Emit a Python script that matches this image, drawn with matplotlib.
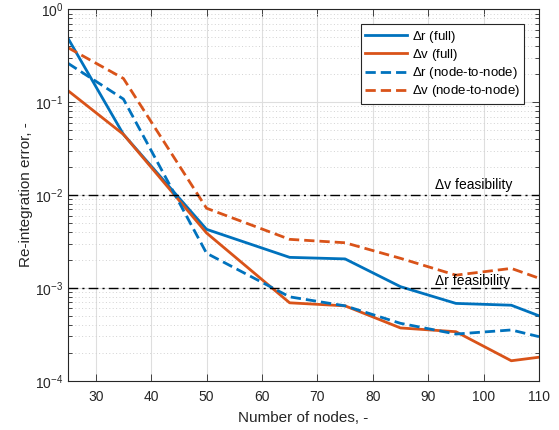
import numpy as np
import matplotlib
matplotlib.use("Agg")
import matplotlib.pyplot as plt
from matplotlib.ticker import LogLocator, NullFormatter, MultipleLocator

plt.rcParams['font.family'] = ['Liberation Sans', 'DejaVu Sans']
plt.rcParams['mathtext.default'] = 'regular'

# Re-integration error vs. number of collocation nodes
nodes = [25, 35, 50, 65, 75, 85, 95, 105, 110]
dr_full = [0.487, 0.045, 0.00427, 0.00213, 0.00205, 0.00103, 0.00068, 0.00065, 0.00050]
dv_full = [0.133, 0.045, 0.00390, 0.00069, 0.00064, 0.00037, 0.000337, 0.000164, 0.000179]
dr_n2n = [0.262, 0.108, 0.00236, 0.00080, 0.00064, 0.000415, 0.000318, 0.000352, 0.000298]
dv_n2n = [0.386, 0.180, 0.00720, 0.00333, 0.00306, 0.00208, 0.00137, 0.00162, 0.00127]

dv_limit = 1e-2
dr_limit = 1e-3

blue = '#0072BD'
orange = '#D95319'
axcol = '#262626'

fig = plt.figure(figsize=(5.59, 4.30), dpi=100)
ax = fig.add_axes([68 / 559, (430 - 380.7) / 430, 471 / 559, 371.4 / 430])

ax.set_yscale('log')
ax.set_xlim(25, 110)
ax.set_ylim(1e-4, 1e0)

# grid: solid majors, dotted minors on the log axis
ax.set_axisbelow(True)
ax.grid(True, which='major', color='#dedede', linewidth=0.8, linestyle='-')
ax.yaxis.grid(True, which='minor', color='#d2d2d2', linewidth=0.7, linestyle=(0, (1, 2.5)))

ax.plot(nodes, dr_full, color=blue, lw=2, label=r'$\Delta$r (full)')
ax.plot(nodes, dv_full, color=orange, lw=2, label=r'$\Delta$v (full)')
ax.plot(nodes, dr_n2n, color=blue, lw=2, ls=(0, (3.7, 1.8)), label=r'$\Delta$r (node-to-node)')
ax.plot(nodes, dv_n2n, color=orange, lw=2, ls=(0, (3.7, 1.8)), label=r'$\Delta$v (node-to-node)')

# feasibility thresholds
ax.axhline(dv_limit, color='black', lw=1, ls=(0, (7, 3, 1.5, 3)))
ax.axhline(dr_limit, color='black', lw=1, ls=(0, (7, 3, 1.5, 3)))
ax.text(91.2, 0.01152, '\u0394v feasibility', fontsize=10, ha='left', va='baseline', color='black')
ax.text(91.2, 0.001065, '\u0394r feasibility', fontsize=10, ha='left', va='baseline', color='black')

ax.xaxis.set_major_locator(MultipleLocator(10))
ax.yaxis.set_major_locator(LogLocator(base=10, numticks=10))
ax.yaxis.set_minor_locator(LogLocator(base=10, subs=np.arange(2, 10), numticks=20))
ax.yaxis.set_minor_formatter(NullFormatter())

ax.tick_params(which='both', direction='in', top=True, right=True, colors=axcol,
               labelsize=10, labelcolor=axcol)
ax.tick_params(which='major', length=5, width=0.6)
ax.tick_params(which='minor', length=3, width=0.6)
ax.tick_params(axis='x', pad=7)
for sp in ax.spines.values():
    sp.set_color(axcol)
    sp.set_linewidth(0.8)

ax.set_xlabel('Number of nodes, -', fontsize=11, color=axcol, labelpad=5)
ax.set_ylabel('Re-integration error, -', fontsize=11, color=axcol, labelpad=1.5)

leg = ax.legend(loc='upper right', bbox_to_anchor=(0.968, 0.9596), borderaxespad=0,
                fontsize=9.5, handlelength=3.15, handletextpad=0.35, labelspacing=0.17,
                borderpad=0.33, fancybox=False, framealpha=1, edgecolor=axcol)
leg.get_frame().set_linewidth(0.8)

fig.savefig('out.png', dpi=100)
